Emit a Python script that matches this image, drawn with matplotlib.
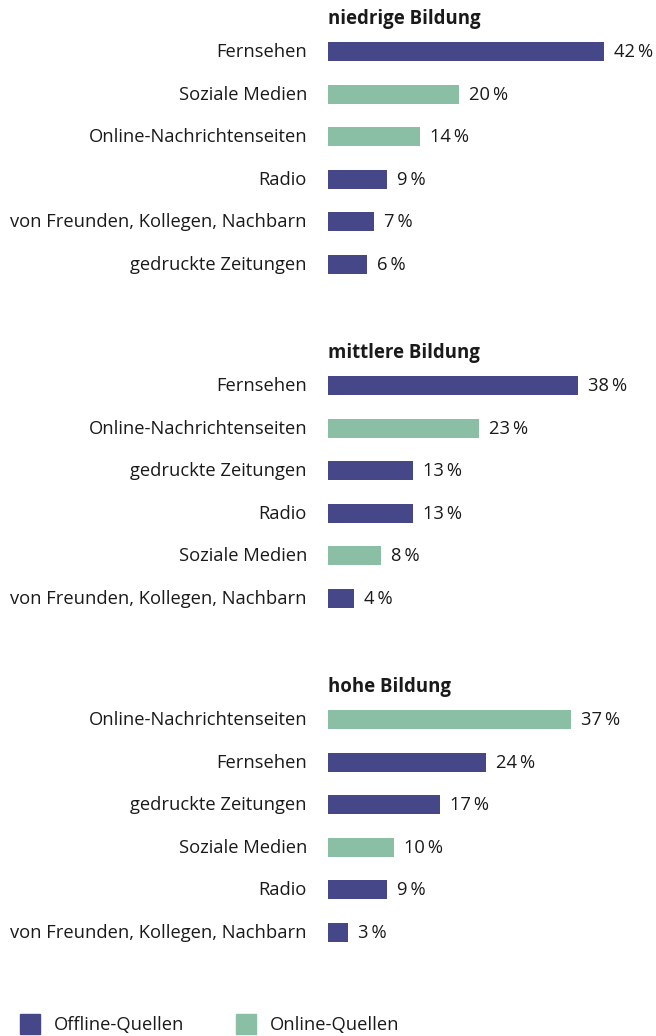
import matplotlib
matplotlib.use("Agg")
import matplotlib.pyplot as plt
from matplotlib import transforms
from matplotlib.patches import Rectangle

plt.rcParams['font.family'] = ['Open Sans', 'DejaVu Sans']

OFFLINE = "#464789"
ONLINE = "#8abfa6"
TEXT = "#1a1a1a"

groups = ["niedrige Bildung", "mittlere Bildung", "hohe Bildung"]

cats_low = ["Fernsehen", "Soziale Medien", "Online-Nachrichtenseiten", "Radio",
            "von Freunden, Kollegen, Nachbarn", "gedruckte Zeitungen"]
vals_low = [42, 20, 14, 9, 7, 6]
online_low = [False, True, True, False, False, False]

cats_mid = ["Fernsehen", "Online-Nachrichtenseiten", "gedruckte Zeitungen", "Radio",
            "Soziale Medien", "von Freunden, Kollegen, Nachbarn"]
vals_mid = [38, 23, 13, 13, 8, 4]
online_mid = [False, True, False, False, True, False]

cats_high = ["Online-Nachrichtenseiten", "Fernsehen", "gedruckte Zeitungen",
             "Soziale Medien", "Radio", "von Freunden, Kollegen, Nachbarn"]
vals_high = [37, 24, 17, 10, 9, 3]
online_high = [True, False, False, True, False, False]

legend_labels = ["Offline-Quellen", "Online-Quellen"]

data = [(cats_low, vals_low, online_low),
        (cats_mid, vals_mid, online_mid),
        (cats_high, vals_high, online_high)]

W, H = 656, 1036
fig = plt.figure(figsize=(W / 100, H / 100), dpi=100)

# axes: x in percent, y in row units (one row = 42.6 px)
row_px = 42.6
group_step = 334 / row_px
x0_px = 328
px_per_pct = 6.57
xmax = (W - x0_px) / px_per_pct
ax = fig.add_axes([x0_px / W, 0, 1 - x0_px / W, 1])
ax.set_xlim(0, xmax)
ytop = -51.5 / row_px
ybot = ytop + H / row_px
ax.set_ylim(ybot, ytop)
ax.axis("off")

label_tr = transforms.offset_copy(ax.transData, fig=fig, x=-21, y=-0.5, units="dots")
value_tr = transforms.offset_copy(ax.transData, fig=fig, x=10, y=-0.5, units="dots")

fs = 13.2
for g, (cats, vals, onl) in enumerate(data):
    base = g * group_step
    ys = [base + i for i in range(len(cats))]
    colors = [ONLINE if o else OFFLINE for o in onl]
    ax.barh(ys, vals, height=19 / row_px, color=colors, left=0)
    ax.text(0, base - 32.5 / row_px, groups[g], ha="left", va="center",
            fontsize=fs + 0.2, fontweight="bold", color=TEXT)
    for y, c, v in zip(ys, cats, vals):
        ax.text(0, y, c, ha="right", va="center", fontsize=fs, color=TEXT,
                transform=label_tr, clip_on=False)
        ax.text(v, y, f"{v}\u2009%", ha="left", va="center", fontsize=fs,
                color=TEXT, transform=value_tr, clip_on=False)

# legend
lax = fig.add_axes([0, 0, 1, 1])
lax.set_xlim(0, W)
lax.set_ylim(H, 0)
lax.axis("off")
for xs, col, lab in [(20, OFFLINE, legend_labels[0]), (236, ONLINE, legend_labels[1])]:
    lax.add_patch(Rectangle((xs, 1014), 20, 20, color=col))
    lax.text(xs + 34, 1025, lab, ha="left", va="center", fontsize=fs, color=TEXT)

fig.savefig("out.png", dpi=100)
